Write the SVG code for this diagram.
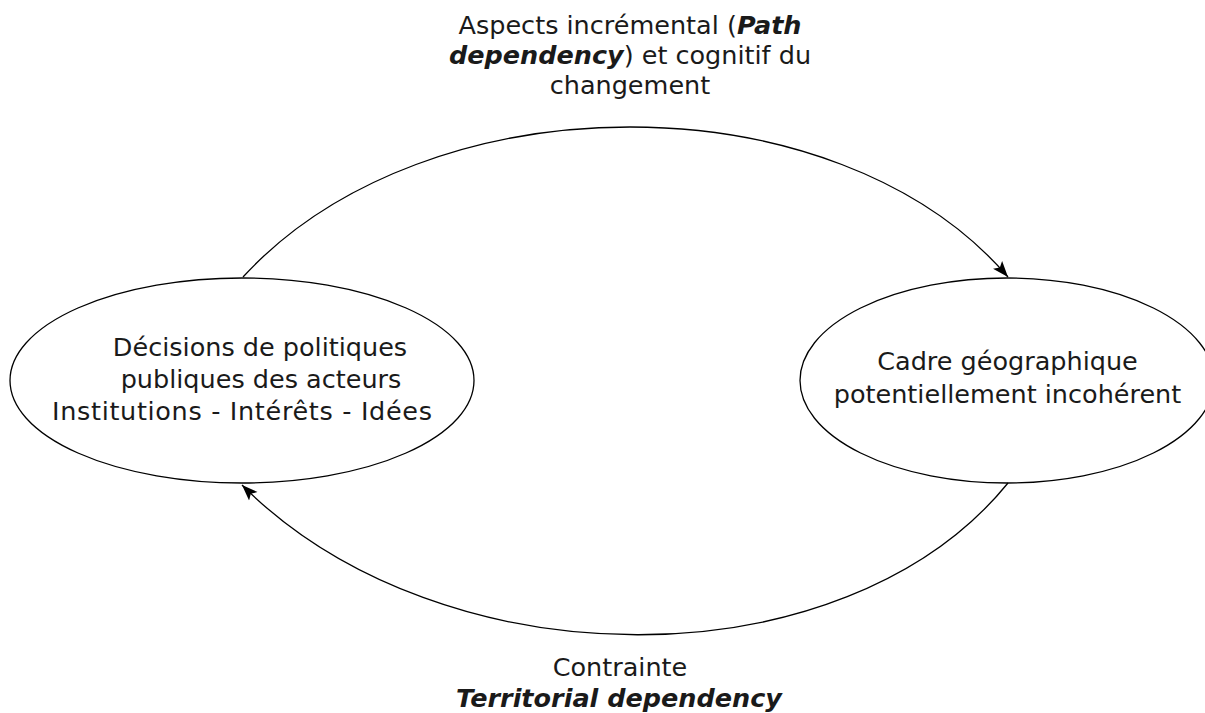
<svg xmlns="http://www.w3.org/2000/svg" width="1205" height="713" viewBox="0 0 1205 713">
<style>
.node{fill:#fff;stroke:#000;stroke-width:1.3}
.edge{fill:none;stroke:#000;stroke-width:1.3}
text{font-family:"DejaVu Sans",Verdana,sans-serif;font-size:25.5px;fill:#1a1a1a;text-anchor:middle}
.bi{font-weight:bold;font-style:italic}
</style>
<defs>
<marker id="arr" viewBox="0 0 17 13" refX="16" refY="6.5" markerWidth="17" markerHeight="13" markerUnits="userSpaceOnUse" orient="auto">
<path d="M16,6.5 L0,0.5 L3.5,6.5 L0,12.5 Z" fill="#000"/>
</marker>
</defs>
<g id="node-decisions">
<ellipse class="node" cx="242" cy="380.5" rx="232" ry="102.5"/>
<text x="260" y="356">Décisions de politiques</text>
<text x="261" y="388">publiques des acteurs</text>
<text x="242" y="420" textLength="380">Institutions - Intérêts - Idées</text>
</g>
<g id="node-cadre">
<ellipse class="node" cx="1007" cy="380.5" rx="207" ry="102.5"/>
<text x="1007.5" y="370">Cadre géographique</text>
<text x="1007.5" y="403">potentiellement incohérent</text>
</g>
<g id="connectors">
<path class="edge" d="M243,277 C427,77 836,77 1008,277" marker-end="url(#arr)"/>
<path class="edge" d="M1008,483 C844,685 442,685 242,485" marker-end="url(#arr)"/>
</g>
<g id="labels">
<text x="630" y="34">Aspects incrémental (<tspan class="bi">Path</tspan></text>
<text x="630" y="64"><tspan class="bi">dependency</tspan>) et cognitif du</text>
<text x="630" y="94">changement</text>
<text x="620" y="676">Contrainte</text>
<text x="619" y="707" class="bi">Territorial dependency</text>
</g>
</svg>
